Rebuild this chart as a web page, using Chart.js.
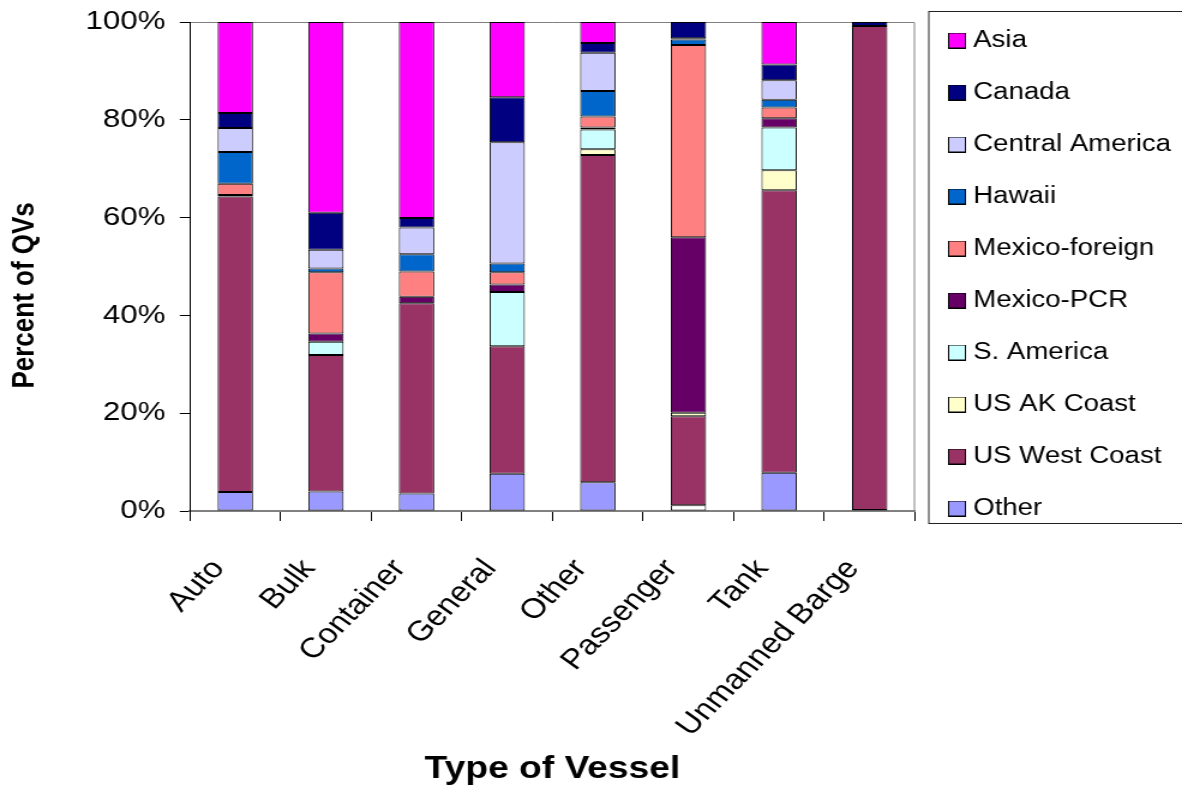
<!DOCTYPE html>
<html><head><meta charset="utf-8">
<script src="https://cdn.jsdelivr.net/npm/chart.js@4.4.1/dist/chart.umd.min.js"></script>
<style>html,body{margin:0;padding:0;background:#fff;overflow:hidden}
#c{display:block}</style></head>
<body><canvas id="c" width="985" height="787" style="width:1182px;height:787px"></canvas>
<script>
// ---- data (percent of QVs, stacked bottom -> top) ----
const categories = ['Auto','Bulk','Container','General','Other','Passenger','Tank','Unmanned Barge'];
const other          = [3.9, 4.0, 3.6, 7.6, 5.9, 1.2, 7.8, 0.2];
const usWestCoast    = [60.4, 27.9, 38.9, 26.1, 66.9, 18.2, 57.8, 99.0];
const usAkCoast      = [0, 0, 0, 0, 1.2, 0.7, 4.1, 0];
const sAmerica       = [0, 2.7, 0, 11.1, 4.0, 0, 8.7, 0];
const mexicoPcr      = [0.3, 1.7, 1.3, 1.5, 0.4, 35.9, 1.9, 0];
const mexicoForeign  = [2.3, 12.5, 5.2, 2.5, 2.3, 39.3, 2.2, 0];
const hawaii         = [6.5, 0.8, 3.5, 1.8, 5.2, 1.1, 1.6, 0];
const centralAmerica = [4.9, 3.8, 5.5, 24.8, 7.8, 0.3, 4.0, 0];
const canada         = [3.1, 7.6, 1.9, 9.2, 2.0, 3.3, 3.2, 0.8];
const asia           = [18.6, 39.0, 40.1, 15.4, 4.3, 0, 8.7, 0];
const yTicks = [0, 20, 40, 60, 80, 100];

const seriesNames = ['Other','US West Coast','US AK Coast','S. America','Mexico-PCR','Mexico-foreign','Hawaii','Central America','Canada','Asia'];
const seriesData  = [other, usWestCoast, usAkCoast, sAmerica, mexicoPcr, mexicoForeign, hawaii, centralAmerica, canada, asia];
const seriesColors = ['#9999FF','#993366','#FFFFCC','#CCFFFF','#660066','#FF8080','#0066CC','#CCCCFF','#000080','#FF00FF'];

const FONT = "'Liberation Sans', Arial, sans-serif";

// legend swatches (square with black outline, offset inside a transparent canvas)
function makeSwatch(color) {
  const c = document.createElement('canvas');
  c.width = 19; c.height = 16;
  const g = c.getContext('2d');
  g.fillStyle = color;
  g.fillRect(4, 0, 15, 16);
  g.strokeStyle = '#000';
  g.lineWidth = 1;
  g.strokeRect(4.5, 0.5, 14, 15);
  return c;
}
const swatches = seriesColors.map(makeSwatch);

const datasets = seriesNames.map((name, i) => ({
  label: name,
  data: seriesData[i],
  backgroundColor: i === 0
    ? (ctx) => (ctx.dataIndex === 5 ? '#FFFFFF' : seriesColors[0])
    : seriesColors[i],
  borderColor: '#000000',
  borderWidth: 1,
  borderSkipped: false,
  categoryPercentage: 1,
  barPercentage: 0.39
}));

const framePlugin = {
  id: 'frame',
  beforeDraw(chart) {
    const {ctx, chartArea: a} = chart;
    ctx.save();
    ctx.strokeStyle = '#808080';
    ctx.lineWidth = 1;
    ctx.beginPath();
    ctx.moveTo(a.left, a.top + 0.5);
    ctx.lineTo(a.right - 0.5, a.top + 0.5);
    ctx.lineTo(a.right - 0.5, a.bottom);
    ctx.stroke();
    ctx.restore();
  },
  afterDraw(chart) {
    const l = chart.legend;
    const ctx = chart.ctx;
    ctx.save();
    ctx.strokeStyle = '#222';
    ctx.lineWidth = 1;
    ctx.strokeRect(l.left + 11.5, 11.5, 400, 512);
    ctx.restore();
  }
};

new Chart(document.getElementById('c'), {
  type: 'bar',
  data: { labels: categories, datasets },
  plugins: [framePlugin],
  options: {
    responsive: false,
    animation: false,
    devicePixelRatio: 1,
    layout: { padding: 0 },
    plugins: {
      title: { display: true, text: ' ', font: { size: 10, lineHeight: 1.2 }, padding: { top: 0, bottom: 10 } },
      tooltip: { enabled: false },
      legend: {
        position: 'right',
        align: 'start',
        reverse: true,
        maxWidth: 222.5,
        labels: {
          usePointStyle: true,
          pointStyleWidth: 8,
          boxHeight: 16,
          padding: 29,
          color: '#000',
          font: { family: FONT, size: 23 },
          generateLabels: (chart) =>
            Chart.defaults.plugins.legend.labels.generateLabels(chart)
              .map(item => Object.assign(item, { pointStyle: swatches[item.datasetIndex] }))
        }
      }
    },
    scales: {
      x: {
        stacked: true,
        afterFit: (s) => { s.height = 276; },
        grid: { display: true, drawOnChartArea: false, offset: true, color: '#000', tickLength: 10 },
        border: { display: true, color: '#808080', width: 2 },
        ticks: {
          autoSkip: false,
          minRotation: 50,
          maxRotation: 50,
          padding: 32,
          labelOffset: -14,
          color: '#000',
          font: { family: FONT, size: 28 }
        },
        title: {
          display: true,
          text: 'Type of Vessel',
          color: '#000',
          font: { family: FONT, size: 31, weight: 'bold', lineHeight: 1 },
          padding: { top: 0, bottom: 2 }
        }
      },
      y: {
        stacked: true,
        min: 0,
        max: 100,
        afterFit: (s) => { s.width = 158.3; },
        afterBuildTicks: (s) => { s.ticks = yTicks.map(v => ({ value: v })); },
        grid: { display: true, drawOnChartArea: false, color: '#000', tickLength: 8.5 },
        border: { display: true, color: '#000', width: 1 },
        ticks: {
          padding: 12,
          color: '#000',
          font: { family: FONT, size: 26, lineHeight: 0.75 },
          callback: (v) => v + '%'
        },
        title: {
          display: true,
          text: 'Percent of QVs        ',
          color: '#000',
          font: { family: FONT, size: 26, weight: 'bold', lineHeight: 1.2 },
          padding: { top: 5, bottom: 0 }
        }
      }
    }
  }
});
</script>
</body></html>
